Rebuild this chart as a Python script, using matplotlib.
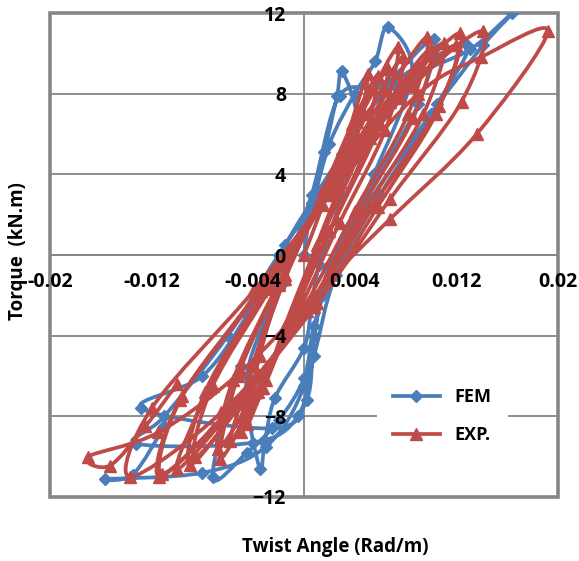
import numpy as np
import matplotlib

matplotlib.use("Agg")
import matplotlib.pyplot as plt
from matplotlib.path import Path
from matplotlib.patches import PathPatch, Rectangle
from matplotlib.lines import Line2D

plt.rcParams["font.family"] = ["Open Sans", "DejaVu Sans"]

# FEM hysteresis (twist angle rad/m, torque kN.m)
fem_twist = [
    0.0000, 0.0006, 0.0016, 0.0026, 0.0030,
    0.0042, 0.0030, 0.0012, 0.0006, 0.0000, -0.0023, -0.0031, -0.0035,
    -0.0045, -0.0018, 0.0004, 0.0020, 0.0040, 0.0056, 0.0066,
    0.0085, 0.0055, 0.0025, 0.0008, 0.0000, -0.0020, -0.0045, -0.0072,
    -0.0050, -0.0020, 0.0006, 0.0028, 0.0062, 0.0102,
    0.0090, 0.0050, 0.0020, 0.0008, 0.0002, -0.0025, -0.0128,
    -0.0080, -0.0045, -0.0015, 0.0030, 0.0070, 0.0128,
    0.0105, 0.0060, 0.0025, 0.0008, -0.0005, -0.0040, -0.0132,
    -0.0110, -0.0060, -0.0020, 0.0030, 0.0080, 0.0131, 0.0164,
    0.0141, 0.0100, 0.0050, 0.0015, 0.0000, -0.0030, -0.0080, -0.0157,
    -0.0135, -0.0110,
]
fem_torque = [
    0.0, 2.6, 5.1, 7.9, 9.1,
    6.5, 3.0, -0.5, -2.4, -4.6, -7.1, -9.3, -10.6,
    -6.0, -1.5, 2.0, 5.5, 8.0, 9.6, 11.3,
    9.0, 4.0, 0.0, -3.5, -6.1, -8.2, -9.8, -11.0,
    -5.5, -1.5, 3.0, 7.9, 8.4, 10.7,
    7.5, 3.0, -0.5, -4.0, -7.2, -8.6, -7.6,
    -6.0, -3.0, 0.5, 5.0, 8.5, 10.4,
    7.5, 3.0, -1.0, -5.0, -8.0, -9.3, -9.35,
    -8.0, -4.0, 0.0, 4.5, 8.5, 10.2, 12.0,
    10.4, 7.0, 2.5, -2.0, -6.5, -9.5, -10.8, -11.1,
    -10.9, -8.5,
]

# EXP. hysteresis
exp_twist = [
    0.0000, 0.0015, 0.0032, 0.0050, 0.0040, 0.0010, -0.0015, -0.0030, -0.0045,
    -0.0035, -0.0015, 0.0015, 0.0038, 0.0058, 0.0046, 0.0015, -0.0012, -0.0032, -0.0050,
    -0.0040, -0.0016, 0.0016, 0.0042, 0.0066, 0.0052, 0.0020, -0.0010, -0.0034, -0.0058,
    -0.0040, -0.0015, 0.0018, 0.0046, 0.0074, 0.0060, 0.0025, -0.0008, -0.0036, -0.0066,
    -0.0052, -0.0020, 0.0018, 0.0050, 0.0078, 0.0064, 0.0028, -0.0006, -0.0038, -0.0068,
    -0.0056, -0.0020, 0.0022, 0.0060, 0.0097, 0.0082, 0.0040, 0.0000, -0.0045, -0.0086,
    -0.0072, -0.0026, 0.0020, 0.0064, 0.0100, 0.0086, 0.0044, 0.0002, -0.0048, -0.0090,
    -0.0078, -0.0030, 0.0020, 0.0068, 0.0110, 0.0094, 0.0050, 0.0004, -0.0052, -0.0100,
    -0.0074, -0.0028, 0.0024, 0.0075, 0.0123, 0.0106, 0.0056, 0.0006, -0.0055, -0.0112,
    -0.0096, -0.0034, 0.0022, 0.0076, 0.0120, 0.0104, 0.0058, 0.0008, -0.0058, -0.0114,
    -0.0098, -0.0036, 0.0026, 0.0086, 0.0141, 0.0124, 0.0068, 0.0010, -0.0065, -0.0137,
    -0.0120, -0.0040, 0.0028, 0.0090, 0.0139, 0.0192, 0.0136, 0.0068, 0.0020, -0.0050, -0.0115, -0.0170,
    -0.0153, -0.0125, -0.0100,
]
exp_torque = [
    0.0, 2.5, 5.5, 9.0, 5.5, 0.5, -3.5, -6.2, -8.4,
    -5.0, -1.0, 3.2, 6.5, 8.9, 5.5, 1.0, -3.5, -6.6, -8.8,
    -5.4, -1.2, 3.0, 6.6, 9.2, 5.8, 1.2, -3.2, -6.6, -9.2,
    -5.5, -1.2, 3.5, 7.2, 10.3, 6.5, 1.8, -2.8, -6.8, -10.1,
    -6.0, -1.5, 3.2, 7.0, 9.8, 6.2, 1.6, -3.0, -6.8, -9.6,
    -6.2, -1.4, 3.4, 7.5, 10.8, 7.0, 2.2, -2.6, -7.0, -10.0,
    -6.5, -1.6, 3.2, 7.4, 10.2, 6.8, 2.2, -2.8, -7.2, -10.4,
    -6.8, -1.7, 3.0, 7.6, 10.5, 7.0, 2.4, -2.6, -7.3, -10.6,
    -6.6, -1.6, 3.4, 8.0, 11.0, 7.4, 2.6, -2.4, -7.4, -10.85,
    -7.0, -1.8, 3.2, 7.8, 10.4, 7.0, 2.4, -2.6, -7.6, -11.0,
    -7.2, -1.8, 3.6, 8.4, 11.1, 7.6, 2.8, -2.4, -7.8, -11.0,
    -7.6, -1.8, 3.6, 8.0, 9.8, 11.1, 6.0, 1.8, -1.2, -5.8, -8.8, -10.0,
    -10.45, -8.5, -6.4,
]

x_ticks = [-0.02, -0.012, -0.004, 0.004, 0.012, 0.02]
x_tick_labels = ["-0.02", "-0.012", "-0.004", "0.004", "0.012", "0.02"]
y_ticks = [-12, -8, -4, 0, 4, 8, 12]

BLUE = "#4A7EBB"
RED = "#BE4B48"
GRAY = "#868686"


def smooth_path(ax, xs, ys):
    # Excel-like smoothed line: cubic Bezier through the points, built in pixel space
    pts = ax.transData.transform(np.column_stack([xs, ys]))
    n = len(pts)
    verts = [pts[0]]
    codes = [Path.MOVETO]
    for i in range(n - 1):
        p0 = pts[i - 1] if i > 0 else pts[i]
        p1 = pts[i]
        p2 = pts[i + 1]
        p3 = pts[i + 2] if i + 2 < n else pts[i + 1]
        verts += [p1 + (p2 - p0) / 6.0, p2 - (p3 - p1) / 6.0, p2]
        codes += [Path.CURVE4] * 3
    verts = ax.transData.inverted().transform(np.array(verts))
    return Path(verts, codes)


fig = plt.figure(figsize=(5.79, 5.61), dpi=100)
ax = fig.add_axes([0.0864, 0.1141, 0.8774, 0.8627])
ax.set_xlim(-0.02, 0.02)
ax.set_ylim(-12, 12)

for yv in y_ticks:
    ax.axhline(yv, color=GRAY, lw=1.3, zorder=0)

for xs, ys, col, mk, ms in [
    (fem_twist, fem_torque, BLUE, "D", 5.8),
    (exp_twist, exp_torque, RED, "^", 8),
]:
    ax.add_patch(PathPatch(smooth_path(ax, xs, ys), fc="none", ec=col, lw=2.7,
                           capstyle="round", joinstyle="round", zorder=2))
    ax.plot(xs, ys, ls="none", marker=mk, ms=ms, color=col, zorder=2)

ax.spines["left"].set_position(("data", 0))
ax.spines["bottom"].set_position(("data", 0))
ax.spines["top"].set_visible(False)
ax.spines["right"].set_visible(False)
for s in ("left", "bottom"):
    ax.spines[s].set_color(GRAY)
    ax.spines[s].set_linewidth(1.3)
    ax.spines[s].set_zorder(0.5)
ax.add_patch(Rectangle((0, 0), 1, 1, transform=ax.transAxes, fill=False,
                       ec=GRAY, lw=2.6, clip_on=False, zorder=0.6))

ax.set_axisbelow(False)
ax.set_xticks(x_ticks)
ax.set_xticklabels(x_tick_labels)
ax.set_yticks(y_ticks)
ax.tick_params(axis="both", length=0, labelsize=14)
ax.tick_params(axis="x", pad=12)
ax.tick_params(axis="y", pad=13)
for lab in ax.get_xticklabels() + ax.get_yticklabels():
    lab.set_fontweight("bold")

fig.text(0.579, 0.025, "Twist Angle (Rad/m)", ha="center", va="center",
         fontsize=13.5, fontweight="bold")
fig.text(0.031, 0.553, "Torque  (kN.m)", ha="center", va="center", rotation=90,
         fontsize=13.5, fontweight="bold")

handles = [
    Line2D([], [], color=BLUE, lw=2.7, marker="D", ms=6.5),
    Line2D([], [], color=RED, lw=2.7, marker="^", ms=8.5),
]
leg = ax.legend(handles, ["FEM", "EXP."], loc="center", bbox_to_anchor=(0.772, 0.167),
                frameon=True, facecolor="white", edgecolor="none", framealpha=1,
                fancybox=False, handlelength=2.6, labelspacing=1.1, borderpad=0.9,
                prop={"weight": "bold", "size": 13})
leg.set_zorder(5)

fig.savefig("out.png", dpi=100)
